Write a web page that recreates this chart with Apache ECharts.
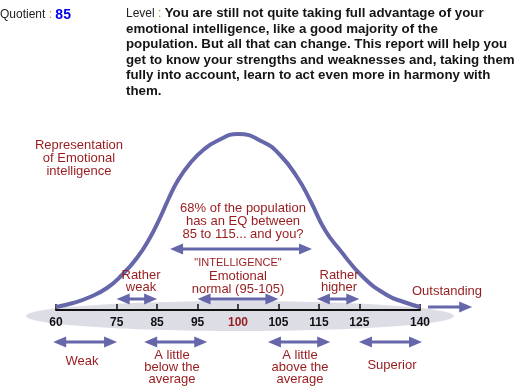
<!DOCTYPE html>
<html><head><meta charset="utf-8">
<script src="https://cdn.jsdelivr.net/npm/echarts@6/dist/echarts.min.js"></script>
<style>html,body{margin:0;padding:0;background:#fff}#c{width:514px;height:390px}</style>
</head><body><div id="c"></div>
<script>
// ---- data ----
const tickValues = [60, 75, 85, 95, 100, 105, 115, 125, 140];
const highlightTick = 100;
const quotient = 85;
const curveIQ     = [60, 64.2, 68.4, 72.6, 76.3, 80, 83.2, 85.7, 87.7, 90.2, 93.2, 95.7, 97.4, 100, 103.1, 105.4, 109.6, 112.8, 116.5, 120.2, 125.9, 131.8, 136, 140];
const curveHeight = [3,  7,    13,   22,   35,   52, 72,   92,   110,  130,  147,  160,  169,  176, 168,   155,   133,   110,   80,    60,    33,    15,    8,   3];
const headerLines = [
  'You are still not quite taking full advantage of your',
  'emotional intelligence, like a good majority of the',
  'population. But all that can change. This report will help you',
  'get to know your strengths and weaknesses and, taking them',
  'fully into account, learn to act even more in harmony with',
  'them.'
];
// arrow ranges (IQ)
const arrowFrom = [75, 95, 114.5, 88.2, 142, 59.3, 81.8, 103.7, 124.9];
const arrowTo   = [85, 105, 125, 113.3, 152.9, 75.1, 96.2, 117.8, 140.5];

// ---- scale: 95-105 band is drawn twice as wide ----
function iqToPos(iq) {
  if (iq <= 95) return (iq - 60) / 10;
  if (iq <= 105) return 3.5 + (iq - 95) / 5;
  return 5.5 + (iq - 105) / 10;
}
const tickPos = tickValues.map(iqToPos);

const RED = '#981b1e', BLUE = '#6666aa', FONT = '"Liberation Sans", Arial, sans-serif';
const chart = echarts.init(document.getElementById('c'), null, {renderer: 'canvas'});

const option = {
  animation: false,
  grid: {left: 56, right: 94, top: 110, bottom: 80},
  xAxis: {
    type: 'value', min: 0, max: 9,
    splitLine: {show: false},
    axisLine: {onZero: false, lineStyle: {color: '#111', width: 2}},
    axisTick: {inside: true, length: 6, customValues: tickPos, lineStyle: {color: '#111', width: 1.5}},
    axisLabel: {
      customValues: tickPos, margin: 7,
      fontFamily: FONT, fontWeight: 'bold', fontSize: 12, color: '#111',
      formatter: function (v) {
        let i = tickPos.findIndex(p => Math.abs(p - v) < 1e-6);
        let t = i >= 0 ? tickValues[i] : '';
        return t === highlightTick ? '{r|' + t + '}' : String(t);
      },
      rich: {r: {color: RED, fontWeight: 'bold', fontSize: 12, fontFamily: FONT}}
    }
  },
  yAxis: {type: 'value', min: 0, max: 200, show: false},
  series: [{
    type: 'line', clip: false, symbol: 'none', smooth: 0.5,
    data: curveIQ.map((q, i) => [iqToPos(q), curveHeight[i]]),
    lineStyle: {color: BLUE, width: 4}, z: 2
  }]
};
chart.setOption(option);

// ---- annotations ----
const arrowY = [299, 299, 299, 249, 307, 342, 342, 342, 342];
const arrowBoth = [true, true, true, true, false, true, true, true, true];
const els = [];
els.push({type: 'ellipse', z: -1, shape: {cx: 240, cy: 316, rx: 214, ry: 15}, style: {fill: '#dddde6'}, silent: true});
const HL = 13, HW = 5.5;
arrowFrom.forEach((f, i) => {
  const x1 = chart.convertToPixel({gridIndex: 0}, [iqToPos(f), 0])[0];
  const x2 = chart.convertToPixel({gridIndex: 0}, [iqToPos(arrowTo[i]), 0])[0];
  const y = arrowY[i];
  const s1 = arrowBoth[i] ? x1 + HL - 2 : x1;
  els.push({type: 'rect', z: 3, shape: {x: s1, y: y - 1.5, width: (x2 - HL + 2) - s1, height: 3}, style: {fill: BLUE}});
  els.push({type: 'polygon', z: 3, shape: {points: [[x2, y], [x2 - HL, y - HW], [x2 - HL, y + HW]]}, style: {fill: BLUE}});
  if (arrowBoth[i]) els.push({type: 'polygon', z: 3, shape: {points: [[x1, y], [x1 + HL, y - HW], [x1 + HL, y + HW]]}, style: {fill: BLUE}});
});
function txt(t, x, y, size, color, weight, align) {
  els.push({type: 'text', z: 4, style: {text: t, x: x, y: y, align: align || 'center', verticalAlign: 'middle',
    font: (weight || 'normal') + ' ' + size + 'px ' + FONT, fill: color}});
}
function block(lines, x, y0, step, size, color) { lines.forEach((l, i) => txt(l, x, y0 + i * step, size, color)); }

// header
els.push({type: 'text', z: 4, style: {x: 0, y: 15, verticalAlign: 'middle', text: '{a|Quotient}{c| : }{b|' + quotient + '}',
  rich: {a: {fontFamily: FONT, fontSize: 12, fill: '#222'}, c: {fontFamily: FONT, fontSize: 12, fill: '#c08a10'},
         b: {fontFamily: FONT, fontSize: 14, fontWeight: 'bold', fill: '#0000ee'}}}});
els.push({type: 'text', z: 4, style: {x: 126, y: 13.5, verticalAlign: 'middle', text: '{a|Level}{c| : }{b|' + headerLines[0] + '}',
  rich: {a: {fontFamily: FONT, fontSize: 12, fill: '#222'}, c: {fontFamily: FONT, fontSize: 12, fill: '#c08a10'},
         b: {fontFamily: FONT, fontSize: 13.3, fontWeight: 'bold', fill: '#151515'}}}});
headerLines.slice(1).forEach((l, i) => txt(l, 126, 29 + i * 15.5, 13.3, '#151515', 'bold', 'left'));

block(['Representation', 'of Emotional', 'intelligence'], 79, 145, 13, 13, RED);
block(['68% of the population', 'has an EQ between', '85 to 115... and you?'], 243, 208, 13, 13, RED);
txt('"INTELLIGENCE"', 238, 263, 11, RED);
block(['Emotional', 'normal (95-105)'], 238, 276, 13, 13, RED);
block(['Rather', 'weak'], 141, 275, 12.5, 13, RED);
block(['Rather', 'higher'], 339, 275, 12.5, 13, RED);
txt('Outstanding', 447, 291, 13, RED);
txt('Weak', 82, 361, 13, RED);
block(['A little', 'below the', 'average'], 172, 355, 12.3, 13, RED);
block(['A little', 'above the', 'average'], 300, 355, 12.3, 13, RED);
txt('Superior', 392, 365, 13, RED);

chart.setOption({graphic: {elements: els}});
</script>
</body></html>
